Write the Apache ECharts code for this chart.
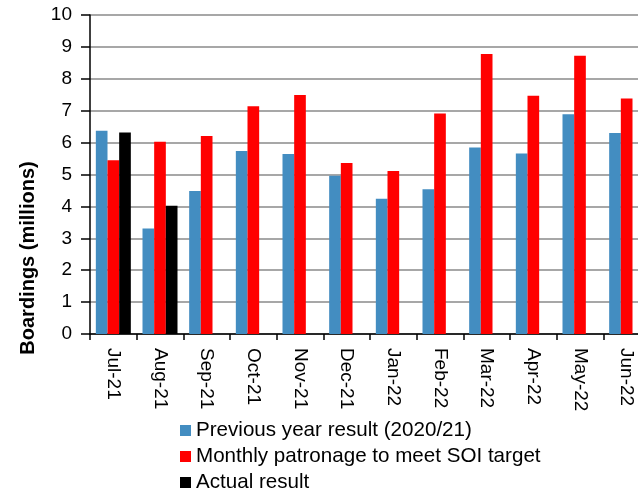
<!DOCTYPE html>
<html><head><meta charset="utf-8">
<script src="https://cdn.jsdelivr.net/npm/echarts@6/dist/echarts.min.js"></script>
<style>html,body{margin:0;padding:0;background:#fff;overflow:hidden;width:638px;height:494px}#c{width:650px;height:494px}</style>
</head><body><div id="c"></div>
<script>
var categories = ['Jul-21','Aug-21','Sep-21','Oct-21','Nov-21','Dec-21','Jan-22','Feb-22','Mar-22','Apr-22','May-22','Jun-22'];
var previousYear = [6.37,3.31,4.48,5.74,5.64,4.96,4.24,4.54,5.85,5.66,6.89,6.30];
var soiTarget = [5.45,6.03,6.21,7.14,7.49,5.36,5.11,6.91,8.78,7.47,8.72,7.38];
var actual = [6.32,4.02,null,null,null,null,null,null,null,null,null,null];
var seriesNames = ['Previous year result (2020/21)','Monthly patronage to meet SOI target','Actual result'];
var yTicks = [0,1,2,3,4,5,6,7,8,9,10];
var yTitle = 'Boardings (millions)';

var chart = echarts.init(document.getElementById('c'));
var font = 'Liberation Sans, Arial, sans-serif';
var legendTops = [420, 446, 472];
var legends = seriesNames.map(function(n,i){
  return {orient:'vertical',left:180,top:legendTops[i],padding:0,itemWidth:11,itemHeight:11,icon:'rect',itemGap:5,
    textStyle:{fontSize:20.6,color:'#000',fontFamily:font},data:[n]};
});
chart.setOption({
  animation:false,
  textStyle:{fontFamily:font},
  grid:{left:90,right:0,top:15,bottom:160,containLabel:false},
  legend:legends,
  graphic:[{type:'text',x:28,y:258,rotation:Math.PI/2,
    style:{text:yTitle,font:'bold 20px Liberation Sans, Arial, sans-serif',fill:'#000',textAlign:'center',textVerticalAlign:'middle'}}],
  xAxis:{type:'category',data:categories,
    axisLine:{lineStyle:{color:'#000',width:1.5}},
    axisTick:{show:true,length:6,lineStyle:{color:'#000',width:1.5}},
    axisLabel:{rotate:-90,fontSize:19,color:'#000',margin:14,fontFamily:font}},
  yAxis:{type:'value',min:yTicks[0],max:yTicks[yTicks.length-1],interval:1,
    axisLine:{show:true,lineStyle:{color:'#000',width:1.5}},
    axisTick:{show:true,inside:false,length:9,lineStyle:{color:'#000',width:1.5}},
    axisLabel:{fontSize:19,color:'#000',margin:18,fontFamily:font},
    splitLine:{lineStyle:{color:'#8a8a8a',width:1.5}}},
  series:[
    {name:seriesNames[0],type:'bar',data:previousYear,itemStyle:{color:'#438DC1'},barGap:'0%',barCategoryGap:'25%'},
    {name:seriesNames[1],type:'bar',data:soiTarget,itemStyle:{color:'#FF0000'},barGap:'0%',barCategoryGap:'25%'},
    {name:seriesNames[2],type:'bar',data:actual,itemStyle:{color:'#000000'},barGap:'0%',barCategoryGap:'25%'}
  ]
});
</script></body></html>
